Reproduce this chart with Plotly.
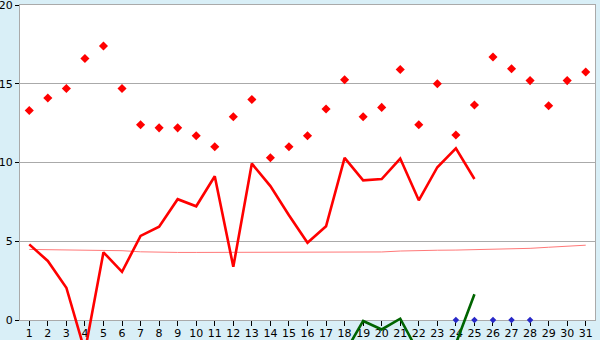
import plotly.graph_objects as go

days = list(range(1, 32))

# red diamond markers (one per day)
points = [13.3, 14.1, 14.7, 16.6, 17.4, 14.7, 12.4, 12.2, 12.2, 11.7,
          11.0, 12.9, 14.0, 10.3, 11.0, 11.7, 13.4, 15.25, 12.9, 13.5,
          15.9, 12.4, 15.0, 11.75, 13.65, 16.7, 15.95, 15.2, 13.6, 15.2, 15.75]

# thick red line, days 1-25
line_days = list(range(1, 26))
line_vals = [4.8, 3.75, 2.05, -2.0, 4.3, 3.06, 5.34, 5.92, 7.67, 7.22,
             9.13, 3.38, 9.93, 8.5, 6.65, 4.9, 5.95, 10.29, 8.87, 8.95,
             10.25, 7.6, 9.7, 10.9, 8.95]

# thin trend line, days 1-31
trend_vals = [4.48, 4.46, 4.43, 4.42, 4.42, 4.40, 4.33, 4.30, 4.29, 4.29,
              4.29, 4.29, 4.29, 4.29, 4.29, 4.29, 4.29, 4.29, 4.30, 4.32,
              4.38, 4.42, 4.43, 4.44, 4.47, 4.48, 4.50, 4.55, 4.62, 4.70, 4.75]

# green line, days 18-25
green_days = list(range(18, 26))
green_vals = [-2.1, -0.06, -0.6, 0.08, -2.1, -2.5, -1.5, 1.63]

# blue markers
blue_days = [24, 25, 26, 27, 28]
blue_vals = [0, 0, 0, 0, 0]

y_ticks = [0, 5, 10, 15, 20]

W, H = 600, 340
ML, MR, MT, MB = 20, 5, 5, 0
AXIS_BOTTOM_PX = 20          # space under the value axis for day labels
plot_h = H - MT - MB
y_dom0 = AXIS_BOTTOM_PX / plot_h
ymin, ymax = y_ticks[0], y_ticks[-1]
# overlay axis covering the whole plot area so lines may run under the axis
ov_min = ymin - (ymax - ymin) * y_dom0 / (1 - y_dom0)

fig = go.Figure()
ov = dict(xaxis="x2", yaxis="y2")
fig.add_trace(go.Scatter(x=days, y=trend_vals, mode="lines",
                         line=dict(color="#ff7878", width=1), **ov))
fig.add_trace(go.Scatter(x=line_days, y=line_vals, mode="lines",
                         line=dict(color="#ff0000", width=2.6), **ov))
fig.add_trace(go.Scatter(x=green_days, y=green_vals, mode="lines",
                         line=dict(color="#006400", width=2.6), **ov))
fig.add_trace(go.Scatter(x=days, y=points, mode="markers",
                         marker=dict(symbol="diamond", size=7, color="#ff0000"),
                         cliponaxis=False, **ov))
fig.add_trace(go.Scatter(x=blue_days, y=blue_vals, mode="markers",
                         marker=dict(symbol="diamond", size=5, color="#2828c8"),
                         cliponaxis=False, **ov))

fig.add_shape(type="rect", xref="x", yref="y", x0=0.5, x1=31.5, y0=ymin, y1=ymax,
              fillcolor="#ffffff", line=dict(width=0), layer="below")

fig.update_layout(
    width=W, height=H,
    margin=dict(l=ML, r=MR, t=MT, b=MB, pad=0),
    paper_bgcolor="#d9eff7",
    plot_bgcolor="rgba(0,0,0,0)",
    showlegend=False,
    font=dict(family="DejaVu Sans", size=11, color="#000000"),
    xaxis=dict(range=[0.5, 31.5], tickmode="array", tickvals=days,
               ticktext=[str(d) for d in days], showgrid=False,
               showline=True, linecolor="#aaaaaa", linewidth=1, mirror=True,
               ticks="outside", ticklen=5, tickcolor="#000000", tickwidth=1,
               ticklabeloverflow="allow", ticklabelstandoff=-2,
               zeroline=False, fixedrange=True, automargin=False, anchor="y"),
    yaxis=dict(range=[ymin, ymax], domain=[y_dom0, 1], tickmode="array",
               tickvals=y_ticks, ticktext=[str(v) for v in y_ticks],
               showgrid=True, gridcolor="#aaaaaa", gridwidth=1,
               showline=True, linecolor="#aaaaaa", linewidth=1, mirror=True,
               ticks="outside", ticklen=4, tickcolor="#000000", tickwidth=1,
               ticklabeloverflow="allow",
               zeroline=False, fixedrange=True, automargin=False, anchor="x"),
    xaxis2=dict(range=[0.5, 31.5], domain=[0, 1], visible=False,
                fixedrange=True, anchor="y2"),
    yaxis2=dict(range=[ov_min, ymax], domain=[0, 1], visible=False,
                fixedrange=True, anchor="x2"),
)

fig.write_html("out.html")
